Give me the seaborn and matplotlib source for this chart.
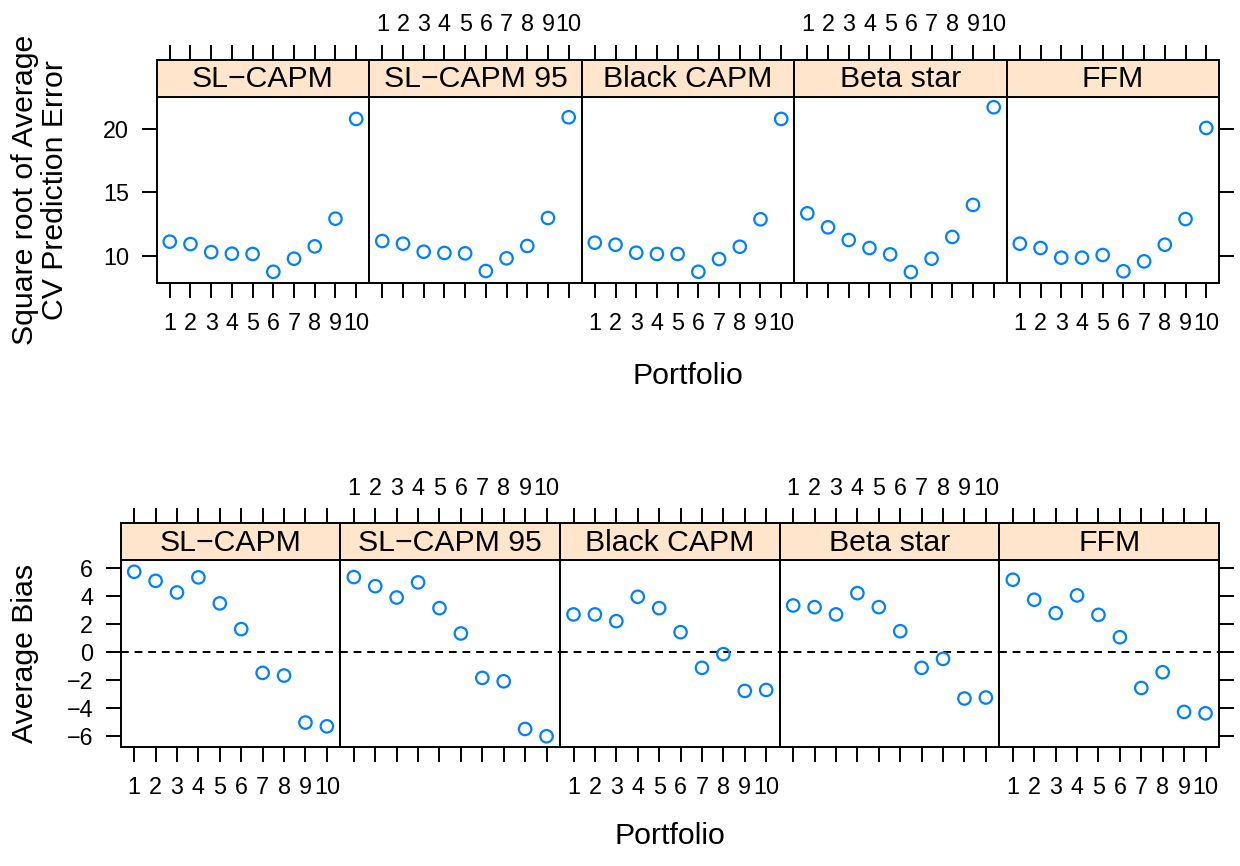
import matplotlib
matplotlib.use("Agg")
import matplotlib.pyplot as plt
import seaborn as sns
import numpy as np
import pandas as pd

# ---------------- data ----------------
models = ["SL\u2212CAPM", "SL\u2212CAPM 95", "Black CAPM", "Beta star", "FFM"]
portfolio = [1, 2, 3, 4, 5, 6, 7, 8, 9, 10]

rmse_sl_capm   = [11.13, 10.94, 10.31, 10.18, 10.16, 8.76, 9.79, 10.76, 12.94, 20.79]
rmse_sl_capm95 = [11.18, 10.97, 10.34, 10.24, 10.21, 8.82, 9.82, 10.79, 12.99, 20.92]
rmse_black     = [11.05, 10.89, 10.26, 10.16, 10.16, 8.76, 9.76, 10.73, 12.89, 20.79]
rmse_betastar  = [13.36, 12.26, 11.26, 10.63, 10.13, 8.74, 9.79, 11.50, 14.02, 21.71]
rmse_ffm       = [10.97, 10.63, 9.87, 9.87, 10.08, 8.80, 9.58, 10.89, 12.91, 20.08]

bias_sl_capm   = [5.75, 5.10, 4.27, 5.35, 3.49, 1.65, -1.48, -1.67, -5.03, -5.30]
bias_sl_capm95 = [5.37, 4.72, 3.91, 4.99, 3.15, 1.34, -1.84, -2.08, -5.49, -6.01]
bias_black     = [2.70, 2.70, 2.22, 3.96, 3.15, 1.43, -1.12, -0.14, -2.77, -2.70]
bias_betastar  = [3.34, 3.22, 2.70, 4.22, 3.22, 1.50, -1.12, -0.48, -3.31, -3.24]
bias_ffm       = [5.18, 3.75, 2.79, 4.06, 2.67, 1.07, -2.56, -1.43, -4.27, -4.37]

rmse_yticks = [10, 15, 20]
bias_yticks = [-6, -4, -2, 0, 2, 4, 6]

rmse_list = [rmse_sl_capm, rmse_sl_capm95, rmse_black, rmse_betastar, rmse_ffm]
bias_list = [bias_sl_capm, bias_sl_capm95, bias_black, bias_betastar, bias_ffm]

rmse_df = pd.DataFrame({
    "model": np.repeat(models, len(portfolio)),
    "portfolio": portfolio * len(models),
    "value": np.concatenate(rmse_list),
})
bias_df = pd.DataFrame({
    "model": np.repeat(models, len(portfolio)),
    "portfolio": portfolio * len(models),
    "value": np.concatenate(bias_list),
})

# ---------------- style ----------------
sns.set_style("white")
plt.rcParams["font.family"] = ["Liberation Sans", "DejaVu Sans"]
plt.rcParams["axes.unicode_minus"] = True
plt.rcParams["text.color"] = "black"
plt.rcParams["axes.labelcolor"] = "black"
plt.rcParams["xtick.color"] = "black"
plt.rcParams["ytick.color"] = "black"

W, H = 1240, 866
fig = plt.figure(figsize=(W / 100, H / 100), dpi=100)

STRIP_BG = "#ffe5cc"
PT_COLOR = "#0080ff"
TICK_FS = 16.8
STRIP_FS = 21.8
LAB_FS = 21.8
LW = 1.4
TLEN = 10.8


def fr(x0, y0, x1, y1):
    """pixel box (top-left origin) -> figure fraction rect"""
    return [x0 / W, 1 - y1 / H, (x1 - x0) / W, (y1 - y0) / H]


def block(df, left, right, strip_top, panel_top, panel_bottom, ylim, yticks, zero_line):
    pw = (right - left) / len(models)
    xlim = (0.37, 10.63)
    for i, m in enumerate(models):
        x0 = left + i * pw
        x1 = x0 + pw
        ax = fig.add_axes(fr(x0, panel_top, x1, panel_bottom))
        sub = df[df["model"] == m]
        if zero_line:
            ax.axhline(0, color="black", lw=LW, linestyle=(0, (4.0, 3.0)), zorder=1)
        sns.scatterplot(data=sub, x="portfolio", y="value", ax=ax, marker="o",
                        s=80, facecolor="none", edgecolor=PT_COLOR, linewidth=1.6,
                        zorder=3, legend=False)
        ax.set_xlim(*xlim)
        ax.set_ylim(*ylim)
        ax.set_xlabel("")
        ax.set_ylabel("")
        ax.set_xticks(portfolio)
        ax.set_xticklabels([str(p) for p in portfolio])
        ax.set_yticks(yticks)
        ax.set_yticklabels([str(t).replace("-", "\u2212") for t in yticks])
        for sp in ax.spines.values():
            sp.set_visible(True)
            sp.set_color("black")
            sp.set_linewidth(LW)
        ax.tick_params(axis="x", which="both", direction="out", length=TLEN, width=LW,
                       bottom=True, top=False, labelbottom=(i % 2 == 0), labeltop=False,
                       labelsize=TICK_FS, pad=10, colors="black")
        ax.tick_params(axis="y", which="both", direction="out", length=TLEN, width=LW,
                       left=(i == 0), right=(i == len(models) - 1),
                       labelleft=(i == 0), labelright=False,
                       labelsize=TICK_FS, pad=9, colors="black")
        # strip
        sax = fig.add_axes(fr(x0, strip_top, x1, panel_top))
        sax.set_facecolor(STRIP_BG)
        sax.set_xlim(*xlim)
        sax.set_ylim(0, 1)
        sax.set_xticks(portfolio)
        sax.set_xticklabels([str(p) for p in portfolio])
        sax.set_yticks([])
        for sp in sax.spines.values():
            sp.set_visible(True)
            sp.set_color("black")
            sp.set_linewidth(LW)
        sax.tick_params(axis="x", direction="out", length=TLEN, width=LW,
                        bottom=False, top=True, labelbottom=False,
                        labeltop=(i % 2 == 1), labelsize=TICK_FS, pad=6, colors="black")
        sax.text(0.5, 0.47, m, transform=sax.transAxes, ha="center", va="center",
                 fontsize=STRIP_FS, color="black")


# top block
block(rmse_df, 156.7, 1219.3, 59.5, 96.7, 282.7, (7.90, 22.54), rmse_yticks, False)
# bottom block
block(bias_df, 120.7, 1219.0, 523.3, 560.3, 747.3, (-6.80, 6.57), bias_yticks, True)

# axis titles
fig.text(688 / W, 1 - 376 / H, "Portfolio", ha="center", va="center", fontsize=LAB_FS)
fig.text(670 / W, 1 - 836 / H, "Portfolio", ha="center", va="center", fontsize=LAB_FS)
fig.text(40 / W, 1 - 190 / H, "Square root of Average\nCV Prediction Error", ha="center",
         va="center", rotation=90, fontsize=LAB_FS, linespacing=1.12)
fig.text(25 / W, 1 - 653 / H, "Average Bias", ha="center", va="center", rotation=90,
         fontsize=LAB_FS)

fig.savefig("out.png", dpi=100, facecolor="white")
